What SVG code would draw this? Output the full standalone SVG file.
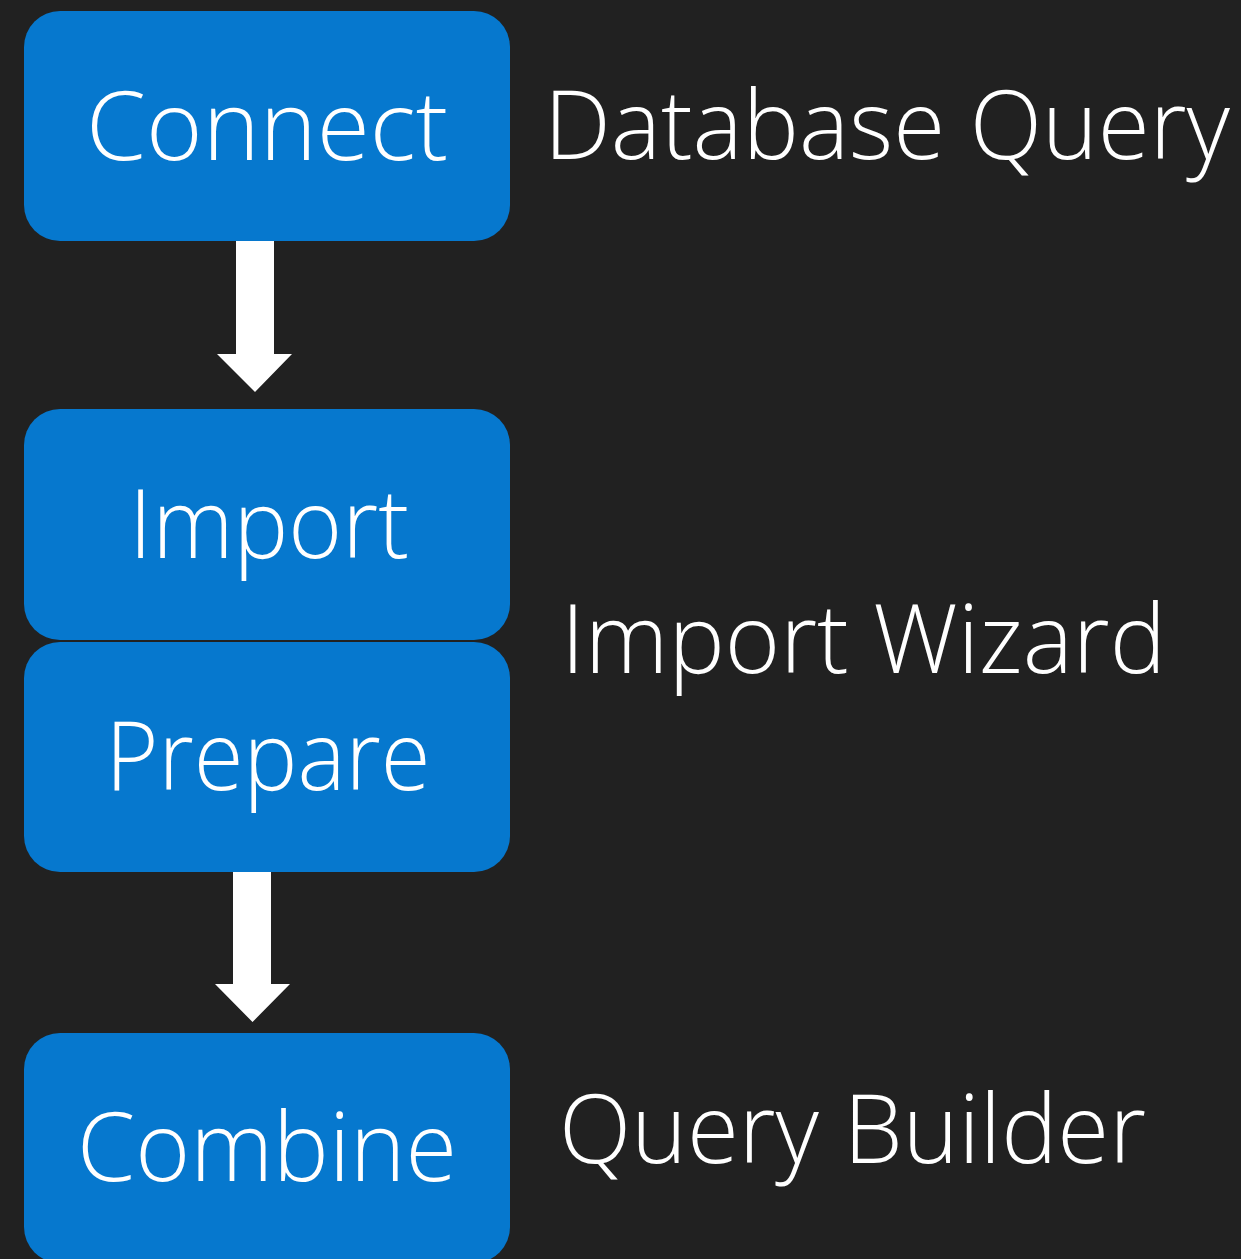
<svg xmlns="http://www.w3.org/2000/svg" width="1241" height="1259" viewBox="0 0 1241 1259">
  <style>
    .box { fill: #0678ce; }
    .label { fill: #ffffff; font-family: "Open Sans", "Liberation Sans", sans-serif; font-weight: 300; font-size: 96px; }
    .mid { text-anchor: middle; }
    .arrow { fill: #ffffff; }
  </style>
  <rect x="0" y="0" width="1241" height="1259" fill="#212121"/>

  <g id="connectors">
    <polygon class="arrow" points="236,240 274,240 274,354 292,354 255,392 217,354 236,354"/>
    <polygon class="arrow" points="233,871 271,871 271,984 290,984 252.5,1022 215,984 233,984"/>
  </g>

  <g id="node-connect">
    <rect class="box" x="24" y="11" width="486" height="230" rx="36"/>
    <text class="label mid" x="267" y="160" textLength="362" lengthAdjust="spacingAndGlyphs">Connect</text>
  </g>
  <g id="node-import">
    <rect class="box" x="24" y="409" width="486" height="231" rx="36"/>
    <text class="label mid" x="269" y="558" textLength="280" lengthAdjust="spacingAndGlyphs">Import</text>
  </g>
  <g id="node-prepare">
    <rect class="box" x="24" y="642" width="486" height="230" rx="36"/>
    <text class="label mid" x="268" y="790" textLength="325" lengthAdjust="spacingAndGlyphs">Prepare</text>
  </g>
  <g id="node-combine">
    <rect class="box" x="24" y="1033" width="486" height="230" rx="36"/>
    <text class="label mid" x="267" y="1181" textLength="380" lengthAdjust="spacingAndGlyphs">Combine</text>
  </g>

  <g id="label-database-query">
    <text class="label" x="544" y="159" textLength="686" lengthAdjust="spacingAndGlyphs">Database Query</text>
  </g>
  <g id="label-import-wizard">
    <text class="label" x="561" y="673" textLength="605" lengthAdjust="spacingAndGlyphs">Import Wizard</text>
  </g>
  <g id="label-query-builder">
    <text class="label" x="559" y="1163" textLength="587" lengthAdjust="spacingAndGlyphs">Query Builder</text>
  </g>
</svg>
